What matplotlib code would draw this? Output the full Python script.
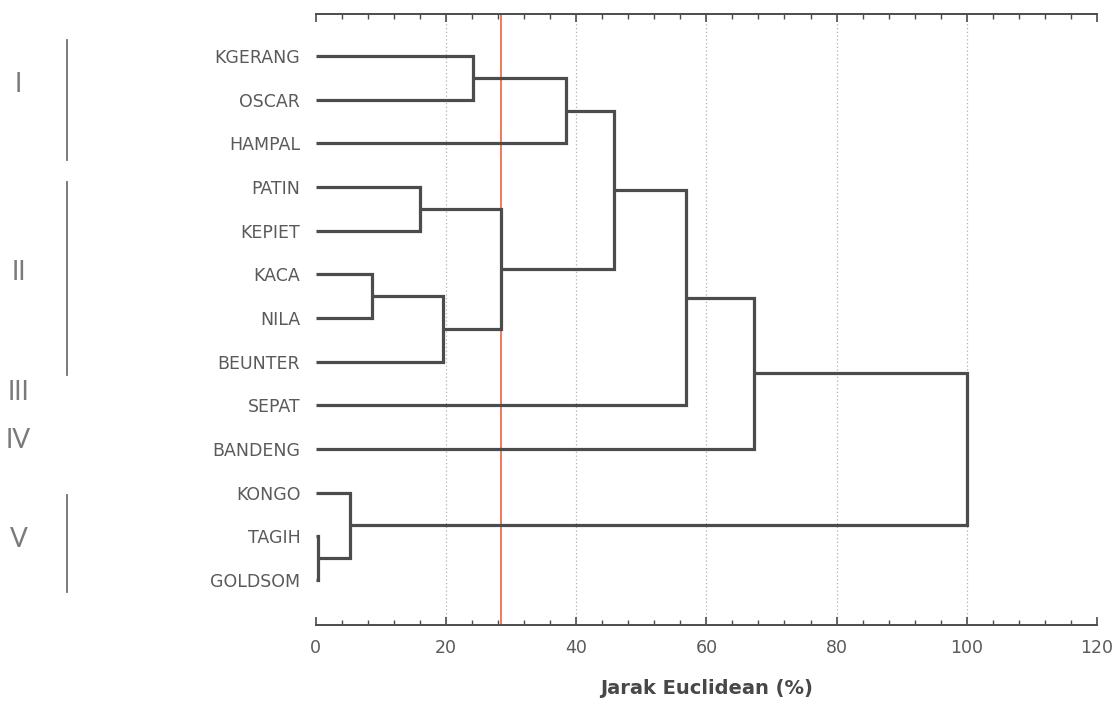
import numpy as np
import matplotlib
matplotlib.use("Agg")
import matplotlib.pyplot as plt
from matplotlib.transforms import blended_transform_factory
from matplotlib.ticker import MultipleLocator

# leaves, top to bottom
leaves = ["KGERANG", "OSCAR", "HAMPAL", "PATIN", "KEPIET", "KACA", "NILA",
          "BEUNTER", "SEPAT", "BANDENG", "KONGO", "TAGIH", "GOLDSOM"]

# linkage: index < 13 is a leaf, otherwise cluster 13 + merge number
link_a = [0, 13, 3, 5, 16, 15, 14, 19, 20, 11, 10, 21]
link_b = [1, 2, 4, 6, 7, 17, 18, 8, 9, 12, 22, 23]
link_h = [24.1, 38.5, 16.0, 8.6, 19.5, 28.4, 45.8, 56.9, 67.3, 0.3, 5.3, 100.0]

cutoff = 28.4

groups = ["I", "II", "III", "IV", "V"]
group_y = [0.66, 4.95, 7.7, 8.8, 11.08]
bar_start = [-0.37, 2.89, None, None, 10.05]
bar_end = [2.38, 7.3, None, None, 12.27]

line_col = "#4c4c4c"
text_col = "#5a5a5a"

fig = plt.figure(figsize=(11.17, 7.04), dpi=100)
ax = fig.add_axes([0.2825, 0.1122, 0.6997, 0.8679])

n = len(leaves)
xs = {i: 0.0 for i in range(n)}
ys = {i: float(i) for i in range(n)}

ax.axvline(cutoff, color="#f07050", lw=1.3, zorder=2)

for k, (a, b, h) in enumerate(zip(link_a, link_b, link_h)):
    ax.plot([xs[a], h, h, xs[b]], [ys[a], ys[a], ys[b], ys[b]],
            color=line_col, lw=2.3, solid_joinstyle="miter",
            solid_capstyle="butt", zorder=3)
    xs[n + k] = h
    ys[n + k] = (ys[a] + ys[b]) / 2

ax.set_xlim(0, 120)
ax.set_ylim(n - 1 + 1.03, -0.96)

ax.set_yticks(range(n))
ax.set_yticklabels(leaves, color=text_col, fontsize=12.5)
ax.tick_params(axis="y", length=0, pad=11)

ax.xaxis.set_major_locator(MultipleLocator(20))
ax.xaxis.set_minor_locator(MultipleLocator(4))
ax.tick_params(axis="x", which="both", direction="in", top=True,
               color=line_col, labelcolor=text_col, labelsize=12.5, pad=10)
ax.tick_params(axis="x", which="major", length=6, width=1.2)
ax.tick_params(axis="x", which="minor", length=3.5, width=1.0)

for v in [20, 40, 60, 80, 100]:
    ax.axvline(v, color="#b0b0b0", lw=0.9, ls=(0, (1, 2)), zorder=1)

for s in ["left", "right"]:
    ax.spines[s].set_visible(False)
for s in ["top", "bottom"]:
    ax.spines[s].set_color(line_col)
    ax.spines[s].set_linewidth(1.4)

ax.set_xlabel("Jarak Euclidean (%)", fontsize=14, fontweight="bold",
              color="#484848", labelpad=16,
              family=["Liberation Sans Narrow", "DejaVu Sans"])

tr = blended_transform_factory(fig.transFigure, ax.transData)
for g, gy, b0, b1 in zip(groups, group_y, bar_start, bar_end):
    fig.text(0.0165, gy, g, transform=tr, ha="center", va="center",
             fontsize=19, color="#7a7a7a",
             family=["Lato", "DejaVu Sans"])
    if b0 is not None:
        fig.add_artist(plt.Line2D([0.06, 0.06], [b0, b1], transform=tr,
                                  color="#707070", lw=1.3))

fig.savefig("out.png", dpi=100)
